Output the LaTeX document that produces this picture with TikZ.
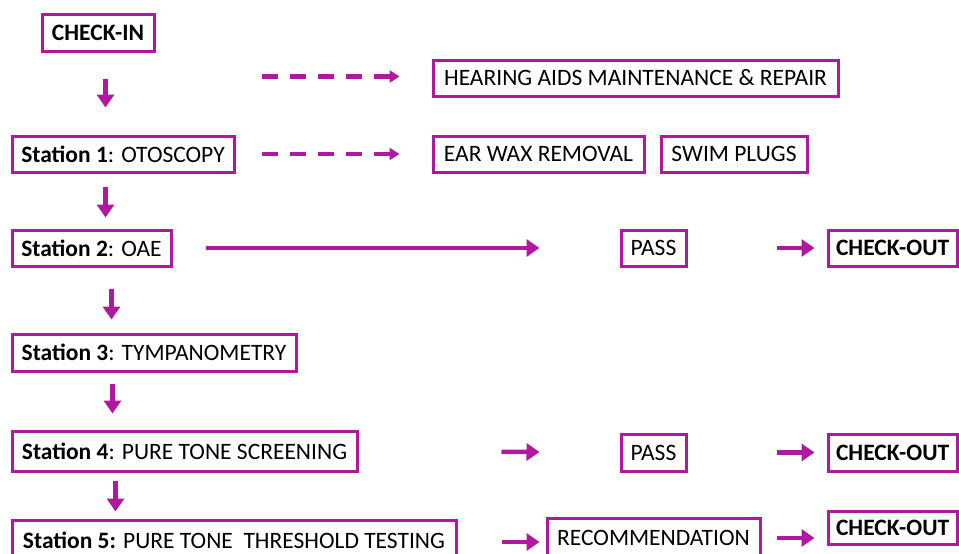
\documentclass[tikz,border=0pt]{standalone}
\usepackage{fontspec}
\setmainfont{Carlito}
\usepackage{tikz}
\usetikzlibrary{arrows.meta,positioning}
\definecolor{hmag}{RGB}{176,24,160}

\begin{document}
\begin{tikzpicture}[x=1pt,y=-1pt,
  box/.style={draw=hmag,line width=3pt,minimum height=36pt,inner xsep=8pt,inner ysep=0pt,font=\fontsize{23.5}{27}\selectfont},
  flow/.style={hmag,line width=4.5pt,-{Triangle[length=13pt,width=17pt]}},
  side/.style={hmag,line width=4.2pt,dash pattern=on 16pt off 12pt,-{Triangle[length=10pt,width=12pt]}}]
\useasboundingbox (0,0) rectangle (959,554);
\clip (0,0) rectangle (959,554);
% Stations
\node[box,anchor=north west,minimum width=112pt,minimum height=37pt] (checkin) at (40.5,12.5) {\textbf{CHECK-IN}};
\node[box,anchor=north west,minimum width=222pt] (s1) at (10.5,134.5) {\textbf{Station 1}: OTOSCOPY};
\node[box,anchor=north west,minimum width=159pt] (s2) at (10.5,228.5) {\textbf{Station 2}: OAE};
\node[box,anchor=north west,minimum width=284pt,minimum height=37pt] (s3) at (10.5,332.5) {\textbf{Station 3}: TYMPANOMETRY};
\node[box,anchor=north west,minimum width=345pt,minimum height=40pt] (s4) at (10.5,429.5) {\textbf{Station 4}: PURE TONE SCREENING};
\node[box,anchor=north west,minimum width=444pt,minimum height=40pt] (s5) at (10.5,518.5) {\textbf{Station 5:} PURE TONE\ \ THRESHOLD TESTING};
% Side services
\node[box,anchor=north west,minimum width=405pt] (hearing) at (431.5,58.5) {HEARING AIDS MAINTENANCE \& REPAIR};
\node[box,anchor=north west,minimum width=211pt] (wax) at (431.5,134.5) {EAR WAX REMOVAL};
\node[box,minimum width=146pt,right=14pt of wax] (swim) {SWIM PLUGS};
% Outcomes
\node[box,anchor=north west,minimum width=65pt] (pass1) at (619.5,228.5) {PASS};
\node[box,anchor=north west] (out1) at (826.5,228.5) {\textbf{CHECK-OUT}};
\node[box,anchor=north west,minimum width=65pt,minimum height=37pt] (pass2) at (619.5,432.5) {PASS};
\node[box,anchor=north west,minimum height=37pt] (out2) at (826.5,432.5) {\textbf{CHECK-OUT}};
\node[box,anchor=north west,minimum width=213pt,minimum height=40pt] (rec) at (545.5,516.5) {RECOMMENDATION};
\node[box,anchor=north west,minimum height=33pt] (out3) at (826.5,509.5) {\textbf{CHECK-OUT}};
% Main flow
\draw[flow,shorten <=26pt,shorten >=27pt] ([xshift=7.5pt]checkin.south) -- ([xshift=7.5pt]checkin.south |- s1.north);
\draw[flow,shorten <=13pt,shorten >=11pt] ([xshift=-17.5pt]s1.south) -- ([xshift=-17.5pt]s1.south |- s2.north);
\draw[flow,shorten <=21pt,shorten >=13pt] ([xshift=20pt]s2.south) -- ([xshift=20pt]s2.south |- s3.north);
\draw[flow,shorten <=11pt,shorten >=16pt] ([xshift=-41.5pt]s3.south) -- ([xshift=-41.5pt]s3.south |- s4.north);
\draw[flow,shorten <=8pt,shorten >=7pt] ([xshift=-69pt]s4.south) -- ([xshift=-69pt]s4.south |- s5.north);
% Referrals
\draw[side] ([xshift=-170pt,yshift=1.5pt]hearing.west) -- ([xshift=-32pt,yshift=1.5pt]hearing.west);
\draw[side,shorten <=26pt,shorten >=32pt] (s1.east) -- (wax.west);
% Results
\draw[flow,shorten <=33pt,shorten >=80pt] (s2.east) -- (pass1.west);
\draw[flow,shorten <=89pt,shorten >=12pt] (pass1.east) -- (out1.west);
\draw[flow,shorten <=143pt,shorten >=80pt] (s4.east) -- (pass2.west);
\draw[flow,shorten <=89pt,shorten >=12pt] (pass2.east) -- (out2.west);
\draw[flow,shorten <=44pt,shorten >=6pt] ([yshift=-2pt]s5.east) -- ([yshift=-2pt]s5.east -| rec.west);
\draw[flow,shorten <=15pt,shorten >=12pt] (rec.east) -- (rec.east -| out3.west);
\end{tikzpicture}
\end{document}
